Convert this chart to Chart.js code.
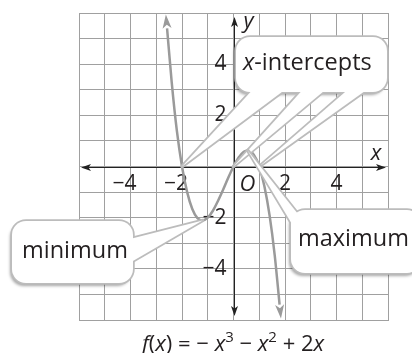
<!DOCTYPE html>
<html>
<head>
<meta charset="utf-8">
<script src="https://cdn.jsdelivr.net/npm/chart.js@4"></script>
<style>
  body { margin: 0; background: #fff; }
  #wrap { width: 412px; height: 353px; }
</style>
</head>
<body>
<div id="wrap"><canvas id="graph" width="412" height="353"></canvas></div>
<script>
var xValues = [-2.58, -2.4, -2.2, -2, -1.8, -1.6, -1.4, -1.2, -1, -0.8, -0.6, -0.4, -0.2, 0, 0.2, 0.4, 0.55, 0.7, 0.9, 1, 1.2, 1.4, 1.6, 1.79];
var yValues = [5.4, 3.3, 1.4, 0, -1.0, -1.66, -2.02, -2.11, -2.0, -1.73, -1.34, -0.9, -0.43, 0, 0.35, 0.58, 0.63, 0.57, 0.26, 0, -0.77, -1.9, -3.46, -5.4];

// tick labels
var xTickValues = [-4, -2, 2, 4];
var yTickValues = [4, 2, -2, -4];

// points the callouts point to
var interceptPoints = [[-2, 0], [0, 0], [1, 0]];
var minimumPoint = [-1.2, -2.11];
var maximumPoint = [0.55, 0.63];

var points = xValues.map(function (x, i) { return { x: x, y: yValues[i] }; });

var FONT = '"Open Sans", "Noto Sans", sans-serif';
var TEXT = "#231f20";
var GRID = "#a0a0a0";
var CURVE = "#9a9a9a";

function arrowHead(ctx, x0, y0, x1, y1, len, half, color) {
    // tip sits len px beyond (x1,y1) along the direction
    var dx = x1 - x0, dy = y1 - y0;
    var d = Math.sqrt(dx * dx + dy * dy);
    var ux = dx / d, uy = dy / d;
    var tx = x1 + ux * len, ty = y1 + uy * len;
    ctx.save();
    ctx.fillStyle = color;
    ctx.beginPath();
    ctx.moveTo(tx, ty);
    ctx.lineTo(x1 - uy * half, y1 + ux * half);
    ctx.lineTo(x1 + ux * len * 0.25, y1 + uy * len * 0.25);
    ctx.lineTo(x1 + uy * half, y1 - ux * half);
    ctx.closePath();
    ctx.fill();
    ctx.restore();
}

function roundRectPath(ctx, x, y, w, h, r) {
    ctx.moveTo(x + r, y);
    ctx.arcTo(x + w, y, x + w, y + h, r);
    ctx.arcTo(x + w, y + h, x, y + h, r);
    ctx.arcTo(x, y + h, x, y, r);
    ctx.arcTo(x, y, x + w, y, r);
    ctx.closePath();
}

function callout(ctx, box, wedges, label) {
    ctx.save();
    ctx.lineJoin = "round";
    // shadow
    ctx.save();
    ctx.shadowColor = "rgba(0,0,0,0.35)";
    ctx.shadowOffsetX = -2;
    ctx.shadowOffsetY = 3;
    ctx.shadowBlur = 3;
    ctx.fillStyle = "#fff";
    ctx.beginPath();
    roundRectPath(ctx, box.x, box.y, box.w, box.h, 14);
    ctx.fill();
    ctx.restore();
    ctx.strokeStyle = "#bcbcbc";
    ctx.lineWidth = 3.5;
    ctx.beginPath();
    roundRectPath(ctx, box.x, box.y, box.w, box.h, 14);
    ctx.stroke();
    wedges.forEach(function (w) {
        ctx.beginPath();
        ctx.moveTo(w[0][0], w[0][1]);
        ctx.lineTo(w[2][0], w[2][1]);
        ctx.lineTo(w[1][0], w[1][1]);
        ctx.stroke();
    });
    ctx.fillStyle = "#fff";
    ctx.beginPath();
    roundRectPath(ctx, box.x, box.y, box.w, box.h, 14);
    ctx.fill();
    wedges.forEach(function (w) {
        ctx.beginPath();
        ctx.moveTo(w[0][0], w[0][1]);
        ctx.lineTo(w[2][0], w[2][1]);
        ctx.lineTo(w[1][0], w[1][1]);
        ctx.closePath();
        ctx.fill();
    });
    ctx.fillStyle = TEXT;
    ctx.textBaseline = "middle";
    ctx.textAlign = "left";
    var cx = box.tx;
    label.forEach(function (p) {
        ctx.font = (p.it ? "italic " : "") + "23.5px " + FONT;
        ctx.fillText(p.t, cx, box.ty);
        cx += ctx.measureText(p.t).width;
    });
    ctx.restore();
}

var drawPlugin = {
    id: "drawPlugin",
    beforeDatasetsDraw: function (chart) {
        var ctx = chart.ctx;
        var xs = chart.scales.x, ys = chart.scales.y;
        var ox = Math.round(xs.getPixelForValue(0)) + 0.5;
        var oy = Math.round(ys.getPixelForValue(0)) + 0.5;
        var a = chart.chartArea;
        ctx.save();
        ctx.strokeStyle = "#222";
        ctx.lineWidth = 1;
        ctx.beginPath();
        ctx.moveTo(a.left + 6, oy);
        ctx.lineTo(a.right - 6, oy);
        ctx.moveTo(ox, a.top + 6);
        ctx.lineTo(ox, a.bottom - 6);
        ctx.stroke();
        arrowHead(ctx, ox, oy, a.right - 12, oy, 10, 3.5, "#222");
        arrowHead(ctx, ox, oy, a.left + 12, oy, 10, 3.5, "#222");
        arrowHead(ctx, ox, oy, ox, a.top + 14, 10, 3.5, "#222");
        arrowHead(ctx, ox, oy, ox, a.bottom - 14, 10, 3.5, "#222");

        ctx.fillStyle = TEXT;
        ctx.font = "21px " + FONT;
        ctx.textBaseline = "middle";
        xTickValues.forEach(function (v) {
            var px = xs.getPixelForValue(v);
            var s = String(Math.abs(v));
            ctx.textAlign = "center";
            ctx.fillText(s, px, oy + 17);
            if (v < 0) {
                ctx.textAlign = "right";
                ctx.fillText("\u2212", px - 6, oy + 17);
            }
        });
        yTickValues.forEach(function (v) {
            var py = ys.getPixelForValue(v);
            ctx.textAlign = "right";
            ctx.fillText((v < 0 ? "\u2212" : "") + Math.abs(v), ox - 8, py);
        });
        ctx.font = "italic 22px " + FONT;
        ctx.textAlign = "center";
        ctx.fillText("O", ox + 13, oy + 17);
        ctx.fillText("x", a.right - 12, oy - 14);
        ctx.fillText("y", ox + 14, a.top + 9);
        ctx.restore();
    },
    afterDatasetsDraw: function (chart) {
        var ctx = chart.ctx;
        var xs = chart.scales.x, ys = chart.scales.y;
        var px = function (p) { return [xs.getPixelForValue(p[0]), ys.getPixelForValue(p[1])]; };
        var n = xValues.length;
        var p0 = px([xValues[1], yValues[1]]), p1 = px([xValues[0], yValues[0]]);
        arrowHead(ctx, p0[0], p0[1], p1[0], p1[1], 14, 4.5, CURVE);
        var q0 = px([xValues[n - 2], yValues[n - 2]]), q1 = px([xValues[n - 1], yValues[n - 1]]);
        arrowHead(ctx, q0[0], q0[1], q1[0], q1[1], 14, 4.5, CURVE);

        // x-intercepts callout
        var bases = [[256, 290], [306, 330], [352, 372]];
        var wedges = interceptPoints.map(function (p, i) {
            return [[bases[i][0], 86], [bases[i][1], 86], px(p)];
        });
        callout(ctx, { x: 236, y: 37, w: 151, h: 55, tx: 243, ty: 63 }, wedges,
            [{ t: "x", it: true }, { t: "-intercepts" }]);

        // minimum callout
        callout(ctx, { x: 12, y: 221, w: 121, h: 62, tx: 22, ty: 251 },
            [[[126, 240], [126, 265], px(minimumPoint)]], [{ t: "minimum" }]);

        // maximum callout
        callout(ctx, { x: 291, y: 210, w: 130, h: 63, tx: 298, ty: 239 },
            [[[298, 214], [298, 234], px(maximumPoint)]], [{ t: "maximum" }]);

        // caption
        var parts = [
            { t: "f", it: true }, { t: "(" }, { t: "x", it: true }, { t: ") = \u2212 " },
            { t: "x", it: true }, { t: "3", sup: true }, { t: " \u2212 " },
            { t: "x", it: true }, { t: "2", sup: true }, { t: " + 2" }, { t: "x", it: true }
        ];
        ctx.save();
        ctx.fillStyle = TEXT;
        ctx.textBaseline = "alphabetic";
        ctx.textAlign = "left";
        var fontOf = function (p) {
            return (p.it ? "italic " : "") + (p.sup ? "15px " : "22px ") + FONT;
        };
        var total = 0;
        parts.forEach(function (p) { ctx.font = fontOf(p); total += ctx.measureText(p.t).width; });
        var cx = 233 - total / 2;
        parts.forEach(function (p) {
            ctx.font = fontOf(p);
            ctx.fillText(p.t, cx, p.sup ? 342 : 351);
            cx += ctx.measureText(p.t).width;
        });
        ctx.restore();
    }
};

var chart = new Chart(document.getElementById("graph"), {
    type: "line",
    data: {
        datasets: [{
            data: points,
            borderColor: CURVE,
            borderWidth: 2.5,
            pointRadius: 0,
            fill: false,
            cubicInterpolationMode: "monotone"
        }]
    },
    options: {
        responsive: false,
        devicePixelRatio: 1,
        animation: false,
        layout: { padding: { left: 79, right: 24, top: 13, bottom: 33 } },
        plugins: { legend: { display: false }, tooltip: { enabled: false } },
        scales: {
            x: {
                type: "linear", min: -6, max: 6,
                ticks: { display: false, stepSize: 1 },
                grid: { color: GRID, lineWidth: 1, drawTicks: false },
                border: { color: GRID, width: 1 },
                afterFit: function (s) { s.height = 0; }
            },
            y: {
                type: "linear", min: -6, max: 6,
                ticks: { display: false, stepSize: 1 },
                grid: { color: GRID, lineWidth: 1, drawTicks: false },
                border: { color: GRID, width: 1 },
                afterFit: function (s) { s.width = 0; }
            }
        }
    },
    plugins: [drawPlugin]
});
</script>
</body>
</html>
